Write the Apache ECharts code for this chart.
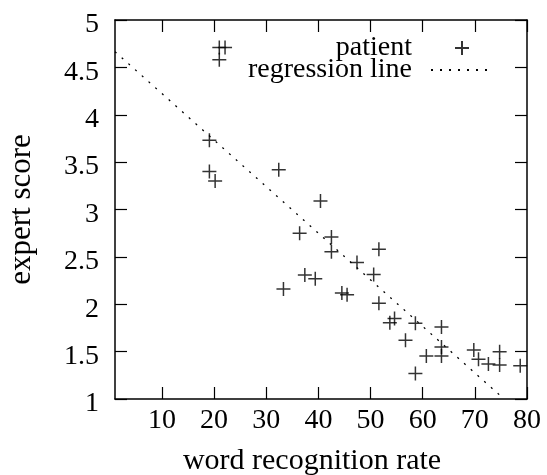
<!DOCTYPE html>
<html>
<head>
<meta charset="utf-8">
<script src="https://cdn.jsdelivr.net/npm/echarts@6/dist/echarts.min.js"></script>
<style>
  html, body { margin: 0; padding: 0; background: #fff; }
  #main { width: 547px; height: 475px; }
</style>
</head>
<body>
<div id="main"></div>
<script>
// patient points (word recognition rate, expert score)
var patientX = [21.0, 22.1, 21.0, 19.1, 19.1, 20.2, 32.4, 40.4, 36.4, 42.5, 42.5, 51.6,
                33.3, 37.4, 39.4, 44.5, 45.5, 47.4, 50.6, 51.6, 53.7, 54.6,
                58.6, 56.7, 63.6, 63.6, 63.6, 60.7, 58.6, 69.8, 70.7, 72.6, 74.75, 74.75, 78.7];
var patientY = [4.71, 4.71, 4.58, 3.73, 3.40, 3.30, 3.42, 3.09, 2.75, 2.71, 2.555, 2.58,
                2.16, 2.31, 2.27, 2.12, 2.10, 2.44, 2.315, 2.01, 1.805, 1.85,
                1.80, 1.62, 1.76, 1.55, 1.455, 1.455, 1.27, 1.517, 1.42, 1.37, 1.50, 1.36, 1.35];
// regression line end points
var regX = [1, 75.6];
var regY = [4.666, 1.0];
var xTicks = [10, 20, 30, 40, 50, 60, 70, 80];

var font = 'Liberation Serif';
var fs = 28;

var myChart = echarts.init(document.getElementById('main'));

var plus = 'path://M0,5L10,5M5,0L5,10';

var tickStyle = { show: true, inside: true, length: 12, lineStyle: { color: '#000', width: 1.2 } };
var lineStyle = { show: true, lineStyle: { color: '#000', width: 1.5 } };

myChart.setOption({
    animation: false,
    backgroundColor: '#fff',
    textStyle: { fontFamily: font, color: '#000' },
    grid: { left: 115, right: 20, top: 20, bottom: 76, outerBoundsMode: 'none' },
    legend: [
        {
            data: ['patient'],
            right: 72, top: 29,
            align: 'right',
            itemWidth: 14, itemHeight: 14,
            formatter: function (name) { return name + '{g|}'; },
            textStyle: { fontFamily: font, fontSize: fs, color: '#000', rich: { g: { width: 38 } } }
        },
        {
            data: ['regression line'],
            right: 50, top: 51,
            align: 'right',
            itemWidth: 60, itemHeight: 14,
            itemStyle: { opacity: 0 },
            formatter: function (name) { return name + '{g|}'; },
            textStyle: { fontFamily: font, fontSize: fs, color: '#000', rich: { g: { width: 14 } } }
        }
    ],
    xAxis: [
        {
            type: 'value', min: 1, max: 80,
            name: 'word recognition rate',
            nameLocation: 'middle', nameGap: 47,
            nameTextStyle: { fontFamily: font, fontSize: 30, color: '#000', padding: [0, 18, 0, 0] },
            axisLine: lineStyle,
            axisTick: Object.assign({ customValues: xTicks }, tickStyle),
            axisLabel: { customValues: xTicks, fontFamily: font, fontSize: fs, color: '#000', margin: 8 },
            splitLine: { show: false }
        },
        {
            type: 'value', min: 1, max: 80, position: 'top',
            axisLine: lineStyle,
            axisTick: Object.assign({ customValues: xTicks }, tickStyle),
            axisLabel: { show: false },
            splitLine: { show: false }
        }
    ],
    yAxis: [
        {
            type: 'value', min: 1, max: 5, interval: 0.5,
            name: 'expert score',
            nameLocation: 'middle', nameGap: 78,
            nameTextStyle: { fontFamily: font, fontSize: 31, color: '#000' },
            axisLine: lineStyle,
            axisTick: tickStyle,
            axisLabel: {
                fontFamily: font, fontSize: fs, color: '#000', margin: 16,
                formatter: function (v) { return '{v|' + v + '}'; },
                rich: { v: { fontFamily: font, fontSize: fs, color: '#000', padding: [10, 0, 0, 0] } }
            },
            splitLine: { show: false }
        },
        {
            type: 'value', min: 1, max: 5, interval: 0.5, position: 'right',
            axisLine: lineStyle,
            axisTick: tickStyle,
            axisLabel: { show: false },
            splitLine: { show: false }
        }
    ],
    series: [
        {
            name: 'patient',
            type: 'scatter',
            symbol: plus,
            symbolSize: 14,
            itemStyle: { color: 'transparent', borderColor: '#000', borderWidth: 1.5 },
            data: patientX.map(function (x, i) { return [x, patientY[i]]; })
        },
        {
            name: 'regression line',
            type: 'line',
            symbol: 'none',
            lineStyle: { color: '#000', width: 1.3, type: [2, 7] },
            itemStyle: { color: '#000' },
            data: regX.map(function (x, i) { return [x, regY[i]]; })
        }
    ]
});
</script>
</body>
</html>
